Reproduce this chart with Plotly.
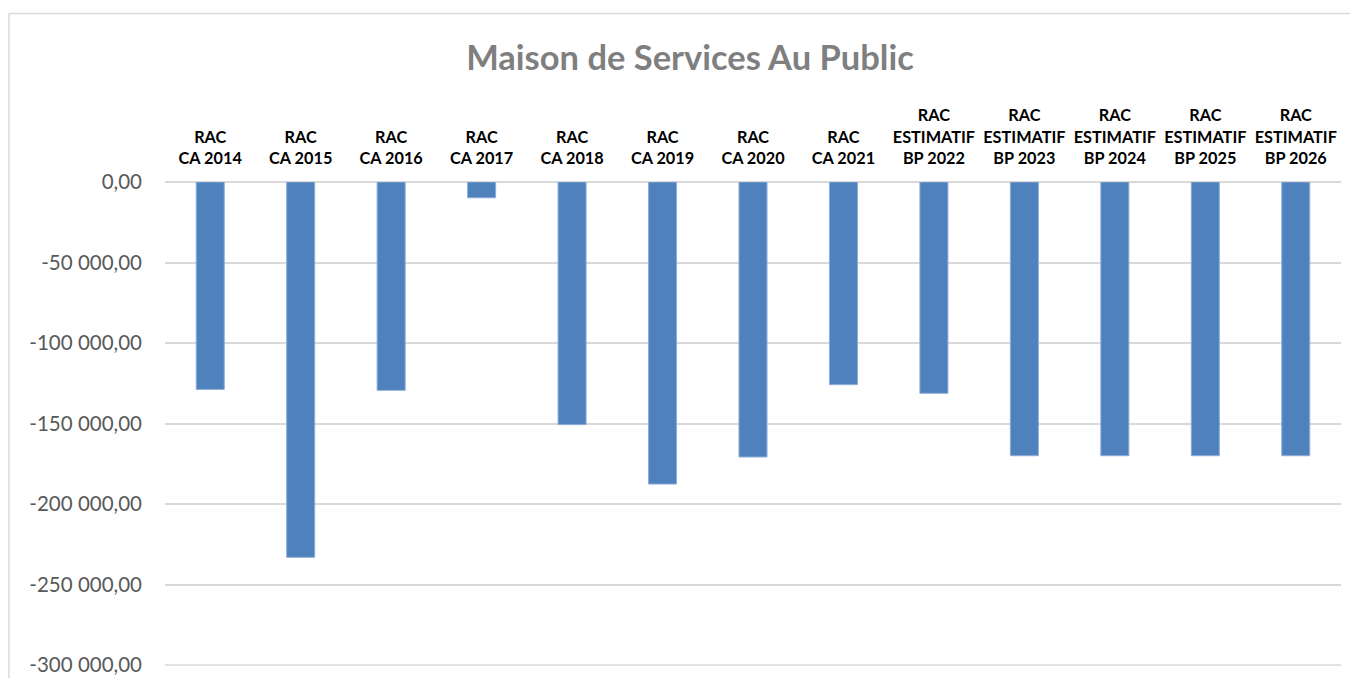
import plotly.graph_objects as go

categories = ["RAC<br>CA 2014", "RAC<br>CA 2015", "RAC<br>CA 2016", "RAC<br>CA 2017",
              "RAC<br>CA 2018", "RAC<br>CA 2019", "RAC<br>CA 2020", "RAC<br>CA 2021",
              "RAC<br>ESTIMATIF<br>BP 2022", "RAC<br>ESTIMATIF<br>BP 2023",
              "RAC<br>ESTIMATIF<br>BP 2024", "RAC<br>ESTIMATIF<br>BP 2025",
              "RAC<br>ESTIMATIF<br>BP 2026"]
values = [-128800, -233100, -129400, -9800, -150700, -187600, -170800, -125900,
          -131250, -170000, -170000, -170000, -170000]
y_tick_vals = [0, -50000, -100000, -150000, -200000, -250000, -300000]
y_tick_text = ["0,00", "-50 000,00", "-100 000,00", "-150 000,00",
               "-200 000,00", "-250 000,00", "-300 000,00"]
y_min = -300000
title_text = "Maison de Services Au Public"

fig = go.Figure(go.Bar(
    x=categories, y=values,
    marker=dict(color="#4f81bd", line=dict(color="#8eaedb", width=1)),
    hoverinfo="x+y",
))

fig.update_layout(
    width=1342, height=670,
    margin=dict(l=157, r=9, t=174, b=12, autoexpand=False),
    paper_bgcolor="white", plot_bgcolor="white",
    bargap=0.69,
    showlegend=False,
    title=dict(text=title_text, x=0.5082, xanchor="center", y=0.926, yanchor="middle",
               font=dict(family="Lato", size=34.5, color="#7f7f7f", weight="bold")),
    font=dict(family="Lato"),
    xaxis=dict(side="top", showgrid=False, showline=False, zeroline=False, ticks="",
               tickfont=dict(family="Lato", size=16.3, color="#000000", weight="bold"),
               ticklabelstandoff=14, tickangle=0),
    yaxis=dict(range=[-300600, 0], tickvals=y_tick_vals, ticktext=y_tick_text,
               showgrid=True, gridcolor="#d9d9d9", gridwidth=1.5,
               zeroline=True, zerolinecolor="#d9d9d9", zerolinewidth=1.5,
               showline=False, ticks="", ticklabelstandoff=22,
               tickfont=dict(family="Lato", size=20.5, color="#595959")),
    shapes=[
        dict(type="line", xref="paper", yref="y", x0=0, x1=1,
             y0=y_min, y1=y_min, layer="below", line=dict(color="#d9d9d9", width=1.5)),
        dict(type="line", xref="paper", yref="paper", x0=-0.1327, x1=-0.1327,
             y0=1.348, y1=-0.2, line=dict(color="#d9d9d9", width=1.5)),
        dict(type="line", xref="paper", yref="paper", x0=-0.1327, x1=1.1,
             y0=1.348, y1=1.348, line=dict(color="#d9d9d9", width=1.5)),
    ],
)

fig.write_html("out.html")
